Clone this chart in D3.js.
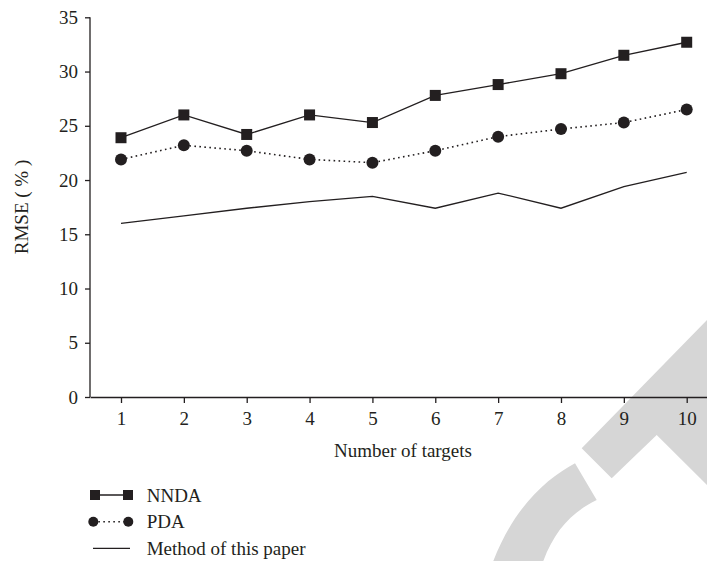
<!DOCTYPE html>
<html>
<head>
<meta charset="utf-8">
<script src="https://cdn.jsdelivr.net/npm/d3@7"></script>
<style>
  html, body { margin: 0; padding: 0; background: #fff; }
  svg { display: block; }
  text { font-family: "Liberation Serif", "DejaVu Serif", serif; fill: #231f20; }
</style>
</head>
<body>
<svg id="chart" width="707" height="561"></svg>
<script>
// ---- data ----
const targets = [1, 2, 3, 4, 5, 6, 7, 8, 9, 10];
const nnda    = [23.9, 26.0, 24.2, 26.0, 25.3, 27.8, 28.8, 29.8, 31.5, 32.7];
const pda     = [21.9, 23.2, 22.7, 21.9, 21.6, 22.7, 24.0, 24.7, 25.3, 26.5];
const method  = [16.0, 16.7, 17.4, 18.0, 18.5, 17.4, 18.8, 17.4, 19.4, 20.7];
const yTicks  = [0, 5, 10, 15, 20, 25, 30, 35];
const seriesNames = ["NNDA", "PDA", "Method of this paper"];
const xTitle = "Number of targets";
const yTitle = "RMSE ( % )";

const ink = "#231f20";
const svg = d3.select("#chart");

// ---- watermark (decorative) ----
const wm = svg.append("g").attr("fill", "#d6d6d6");
wm.append("path").attr("d",
  "M581.7,448.3 L707,320 L707,485 L656.7,435 L611.7,478.3 Z");
wm.append("path").attr("d",
  "M575,463.3 C548,478 515,505 493.3,561 L543.3,561 C555,530 572,512 596.7,500 Z");

// ---- scales ----
const x = d3.scaleLinear().domain([1, 10]).range([121, 686.7]);
const xAxisScale = d3.scaleLinear().domain([x.invert(90), x.invert(707)]).range([90, 707]);
const y = d3.scaleLinear().domain([0, 35]).range([397, 17.3]);

// ---- axes ----
const gx = svg.append("g").attr("transform", `translate(0,${y(0)})`)
  .call(d3.axisBottom(xAxisScale).tickValues(targets).tickFormat(d3.format("d"))
    .tickSize(6).tickSizeOuter(0).tickPadding(9));
const gy = svg.append("g").attr("transform", `translate(90,0)`)
  .call(d3.axisLeft(y).tickValues(yTicks).tickSize(5).tickSizeOuter(0).tickPadding(7));
[gx, gy].forEach(g => {
  g.selectAll("path, line").attr("stroke", ink).attr("stroke-width", 1.3);
  g.selectAll("text").attr("font-size", 19).attr("fill", ink)
    .attr("font-family", "Liberation Serif, DejaVu Serif, serif");
});
gy.select(".domain").attr("d", `M0,${y(0)}V${y(35)}`);

// titles
svg.append("text").attr("x", 403).attr("y", 457).attr("text-anchor", "middle")
  .attr("font-size", 19).text(xTitle);
svg.append("text").attr("transform", "translate(28,207) rotate(-90)")
  .attr("text-anchor", "middle").attr("font-size", 19).text(yTitle);

// ---- lines ----
const line = d3.line().x((d, i) => x(targets[i])).y(d => y(d));

svg.append("path").datum(method).attr("d", line)
  .attr("fill", "none").attr("stroke", ink).attr("stroke-width", 1.3);
svg.append("path").datum(pda).attr("d", line)
  .attr("fill", "none").attr("stroke", ink).attr("stroke-width", 1.6)
  .attr("stroke-dasharray", "1.6,3.4");
svg.append("path").datum(nnda).attr("d", line)
  .attr("fill", "none").attr("stroke", ink).attr("stroke-width", 1.3);

svg.append("g").selectAll("circle").data(pda).join("circle")
  .attr("cx", (d, i) => x(targets[i])).attr("cy", d => y(d)).attr("r", 6)
  .attr("fill", ink);
const sq = 11;
svg.append("g").selectAll("rect").data(nnda).join("rect")
  .attr("x", (d, i) => x(targets[i]) - sq / 2).attr("y", d => y(d) - sq / 2)
  .attr("width", sq).attr("height", sq).attr("fill", ink);

// ---- legend ----
const legY = [495, 521.7, 548.3];
const lg = svg.append("g");
// NNDA
lg.append("line").attr("x1", 95).attr("x2", 128).attr("y1", legY[0]).attr("y2", legY[0])
  .attr("stroke", ink).attr("stroke-width", 1.3);
lg.selectAll("rect").data([95, 128]).join("rect")
  .attr("x", d => d - 5).attr("y", legY[0] - 5).attr("width", 10).attr("height", 10).attr("fill", ink);
// PDA
lg.append("line").attr("x1", 93.3).attr("x2", 128.3).attr("y1", legY[1]).attr("y2", legY[1])
  .attr("stroke", ink).attr("stroke-width", 1.6).attr("stroke-dasharray", "1.6,3.4");
lg.selectAll("circle").data([93.3, 128.3]).join("circle")
  .attr("cx", d => d).attr("cy", legY[1]).attr("r", 5).attr("fill", ink);
// Method
lg.append("line").attr("x1", 93).attr("x2", 130).attr("y1", legY[2]).attr("y2", legY[2])
  .attr("stroke", ink).attr("stroke-width", 1.3);
lg.selectAll("text").data(seriesNames).join("text")
  .attr("x", 146.7).attr("y", (d, i) => legY[i]).attr("dy", "0.35em")
  .attr("font-size", 19).text(d => d);
</script>
</body>
</html>
